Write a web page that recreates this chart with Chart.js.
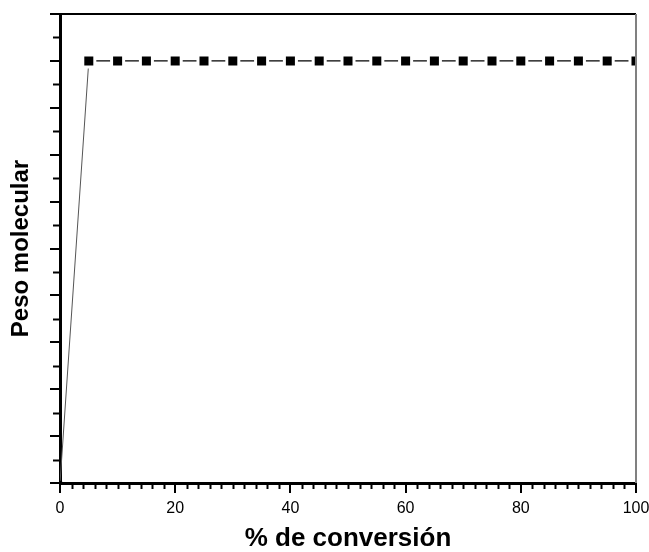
<!DOCTYPE html>
<html>
<head>
<meta charset="utf-8">
<script src="https://cdn.jsdelivr.net/npm/chart.js@4.4.0/dist/chart.umd.min.js"></script>
<style>
  html, body { margin: 0; padding: 0; background: #fff; }
  #wrap { width: 649px; height: 552px; }
</style>
</head>
<body>
<div id="wrap"><canvas id="pesoChart"></canvas></div>
<script>
// values
const conversion = [0, 5, 10, 15, 20, 25, 30, 35, 40, 45, 50, 55, 60, 65, 70, 75, 80, 85, 90, 95, 100];
const pesoMolecular = [0, 9, 9, 9, 9, 9, 9, 9, 9, 9, 9, 9, 9, 9, 9, 9, 9, 9, 9, 9, 9];
const xTickLabels = ['0', '20', '40', '60', '80', '100'];

const fontFamily = '"Liberation Sans", Arial, sans-serif';

// minor ticks + frame on top/right
const framePlugin = {
  id: 'frame',
  afterDraw(chart) {
    const ctx = chart.ctx;
    const area = chart.chartArea;
    const xs = chart.scales.x;
    const ys = chart.scales.y;
    ctx.save();
    ctx.strokeStyle = '#000';
    ctx.lineWidth = 2;
    // minor x ticks every 2
    for (let v = 0; v <= 100; v += 2) {
      if (v % 20 === 0) continue;
      const px = Math.round(xs.getPixelForValue(v)) + 0.5;
      ctx.beginPath();
      ctx.moveTo(px, area.bottom);
      ctx.lineTo(px, area.bottom + 6);
      ctx.stroke();
    }
    // minor y ticks every 0.5
    for (let v = 0.5; v < 10; v += 1) {
      const py = Math.round(ys.getPixelForValue(v)) + 0.5;
      ctx.beginPath();
      ctx.moveTo(area.left, py);
      ctx.lineTo(area.left - 7, py);
      ctx.stroke();
    }
    // top border
    ctx.beginPath();
    ctx.moveTo(area.left, area.top);
    ctx.lineTo(area.right, area.top);
    ctx.stroke();
    // right border (grey)
    ctx.strokeStyle = '#808080';
    ctx.beginPath();
    ctx.moveTo(area.right, area.top);
    ctx.lineTo(area.right, area.bottom);
    ctx.stroke();
    ctx.restore();
  }
};

const ctx = document.getElementById('pesoChart').getContext('2d');
new Chart(ctx, {
  type: 'line',
  data: {
    labels: conversion,
    datasets: [{
      data: conversion.map((x, i) => ({ x: x, y: pesoMolecular[i] })),
      borderColor: '#000',
      borderWidth: 1.3,
      tension: 0,
      pointStyle: 'rect',
      pointRadius: ctx => ctx.dataIndex === 0 ? 3 : 8.5,
      pointBackgroundColor: '#000',
      pointBorderColor: ctx => ctx.dataIndex === 0 ? '#000' : '#fff',
      pointBorderWidth: ctx => ctx.dataIndex === 0 ? 0 : 3,
      segment: {
        borderColor: c => c.p0DataIndex === 0 ? '#555' : '#000',
        borderWidth: c => c.p0DataIndex === 0 ? 1 : 1.3
      }
    }]
  },
  options: {
    responsive: true,
    maintainAspectRatio: false,
    animation: false,
    layout: { padding: { left: 0, right: 13, top: 14, bottom: 0 } },
    plugins: {
      legend: { display: false },
      tooltip: { enabled: false }
    },
    scales: {
      x: {
        type: 'linear',
        min: 0,
        max: 100,
        afterFit: s => {
          s.height = 69;
          s.paddingLeft = 0;
          s.paddingRight = 0;
        },
        border: { display: true, color: '#000', width: 3 },
        grid: { display: true, drawOnChartArea: false, color: '#000', lineWidth: 2, tickLength: 10 },
        ticks: {
          stepSize: 20,
          padding: 6,
          color: '#000',
          font: { family: fontFamily, size: 16 },
          maxRotation: 0,
          callback: v => xTickLabels.includes(String(v)) ? String(v) : ''
        },
        title: {
          display: true,
          text: '% de conversión',
          color: '#000',
          font: { family: fontFamily, size: 26, weight: 'bold', lineHeight: 1 },
          padding: { top: 0, bottom: 0 }
        }
      },
      y: {
        type: 'linear',
        min: 0,
        max: 10,
        afterFit: s => { s.width = 60; },
        border: { display: true, color: '#000', width: 3 },
        grid: { display: true, drawOnChartArea: false, color: '#000', lineWidth: 2, tickLength: 10 },
        ticks: { stepSize: 1, display: false },
        title: {
          display: true,
          text: 'Peso molecular',
          color: '#000',
          font: { family: fontFamily, size: 24, weight: 'bold', lineHeight: 1 },
          padding: { top: 9, bottom: 0 }
        }
      }
    }
  },
  plugins: [framePlugin]
});
</script>
</body>
</html>
